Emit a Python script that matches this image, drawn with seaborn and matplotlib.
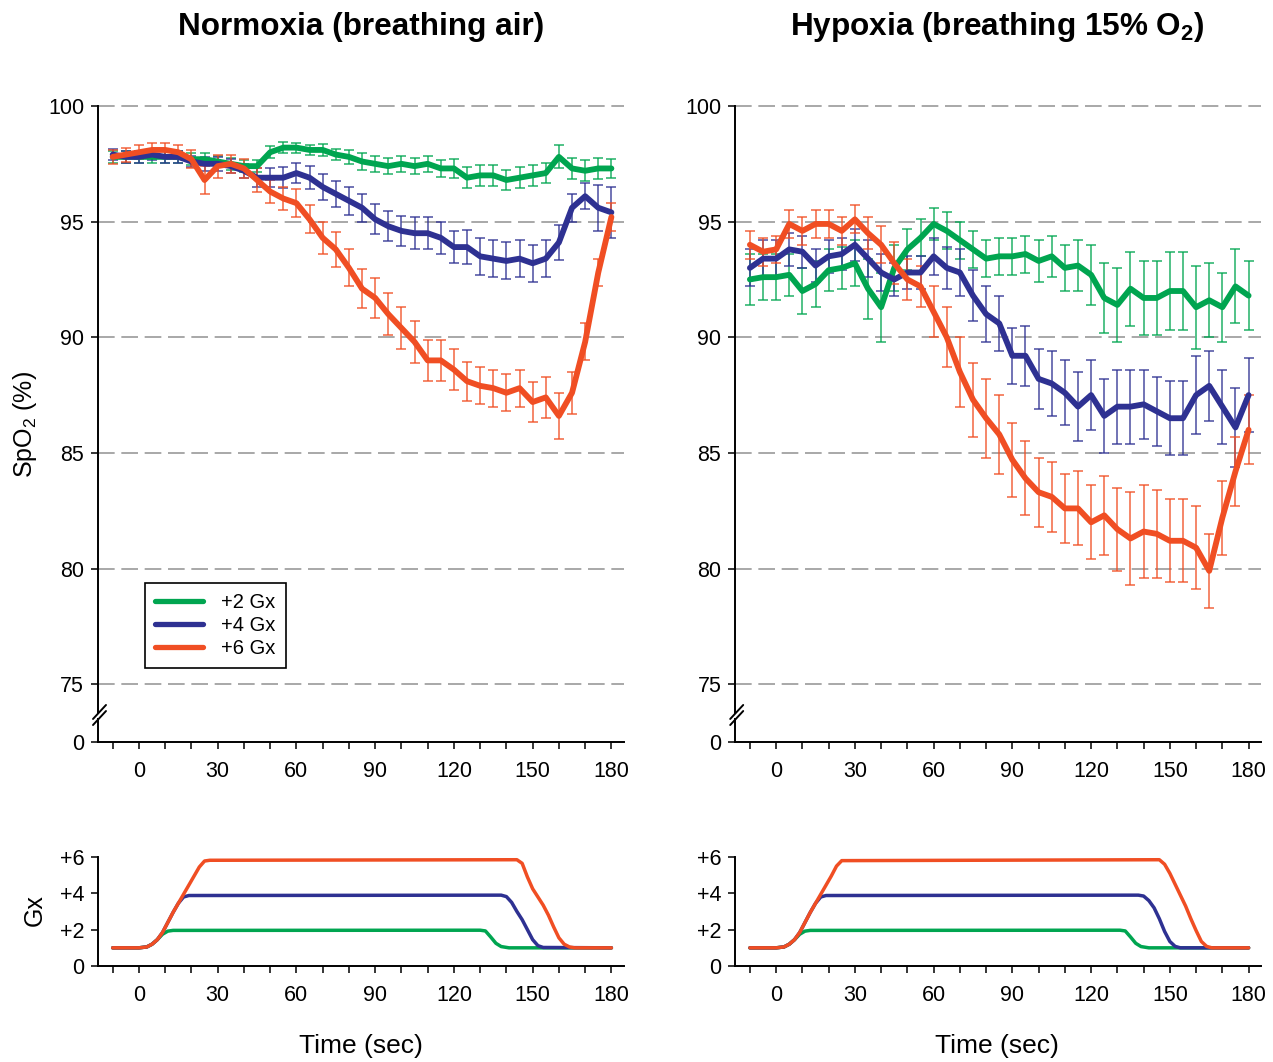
import numpy as np
import pandas as pd
import matplotlib.pyplot as plt
import seaborn as sns
from matplotlib.lines import Line2D

# time axis (s) for the SpO2 traces
time = list(range(-10, 181, 5))

groups = ['+2 Gx', '+4 Gx', '+6 Gx']
colors = ['#00a550', '#2e3192', '#f04e23']

# Normoxia SpO2 (%) and error
norm_g2 = [97.8, 97.8, 97.8, 97.8, 97.8, 97.8, 97.7, 97.7, 97.6, 97.5, 97.4, 97.4, 98.0, 98.2, 98.2, 98.1,
           98.1, 97.9, 97.8, 97.6, 97.5, 97.4, 97.5, 97.4, 97.5, 97.3, 97.3, 96.9, 97.0, 97.0, 96.8, 96.9,
           97.0, 97.1, 97.8, 97.3, 97.2, 97.3, 97.3]
norm_g2_err = [0.25, 0.25, 0.25, 0.25, 0.25, 0.25, 0.25, 0.25, 0.25, 0.25, 0.25, 0.25, 0.25, 0.25, 0.22, 0.22,
               0.25, 0.25, 0.3, 0.35, 0.35, 0.35, 0.35, 0.35, 0.35, 0.35, 0.4, 0.45, 0.45, 0.45, 0.45, 0.45,
               0.45, 0.45, 0.5, 0.45, 0.45, 0.45, 0.4]
norm_g4 = [97.9, 97.8, 97.8, 97.9, 97.8, 97.8, 97.6, 97.5, 97.5, 97.4, 97.2, 96.9, 96.9, 96.9, 97.1, 96.9,
           96.5, 96.2, 95.9, 95.6, 95.1, 94.8, 94.6, 94.5, 94.5, 94.3, 93.9, 93.9, 93.5, 93.4, 93.3, 93.4,
           93.2, 93.4, 94.1, 95.6, 96.1, 95.6, 95.4]
norm_g4_err = [0.25, 0.25, 0.25, 0.25, 0.25, 0.25, 0.25, 0.3, 0.3, 0.3, 0.3, 0.4, 0.4, 0.45, 0.45, 0.5,
               0.55, 0.55, 0.6, 0.6, 0.65, 0.65, 0.65, 0.7, 0.7, 0.7, 0.7, 0.75, 0.8, 0.8, 0.8, 0.8,
               0.8, 0.8, 0.75, 0.6, 0.55, 1.0, 1.1]
norm_g6 = [97.8, 97.9, 98.0, 98.1, 98.1, 98.0, 97.7, 96.8, 97.4, 97.5, 97.3, 96.8, 96.3, 96.0, 95.8, 95.1,
           94.3, 93.8, 93.0, 92.1, 91.7, 91.0, 90.4, 89.8, 89.0, 89.0, 88.6, 88.1, 87.9, 87.8, 87.6, 87.8,
           87.2, 87.4, 86.6, 87.6, 89.8, 92.8, 95.2]
norm_g6_err = [0.3, 0.3, 0.3, 0.3, 0.3, 0.3, 0.4, 0.6, 0.5, 0.4, 0.4, 0.5, 0.5, 0.5, 0.6, 0.6,
               0.7, 0.75, 0.8, 0.85, 0.85, 0.9, 0.9, 0.9, 0.9, 0.9, 0.9, 0.85, 0.8, 0.8, 0.8, 0.8,
               0.85, 0.9, 1.0, 0.9, 0.8, 0.6, 0.6]

# Hypoxia SpO2 (%) and error
hyp_g2 = [92.5, 92.6, 92.6, 92.7, 92.0, 92.3, 92.9, 93.0, 93.2, 92.1, 91.3, 93.0, 93.8, 94.3, 94.9, 94.6,
          94.2, 93.8, 93.4, 93.5, 93.5, 93.6, 93.3, 93.5, 93.0, 93.1, 92.7, 91.7, 91.4, 92.1, 91.7, 91.7,
          92.0, 92.0, 91.3, 91.6, 91.3, 92.2, 91.8]
hyp_g2_err = [1.1, 1.0, 1.0, 0.9, 1.0, 1.0, 0.9, 0.9, 1.0, 1.3, 1.5, 1.0, 0.9, 0.8, 0.7, 0.8,
              0.8, 0.8, 0.8, 0.8, 0.8, 0.8, 0.9, 0.9, 1.0, 1.1, 1.3, 1.5, 1.6, 1.6, 1.6, 1.6,
              1.7, 1.7, 1.8, 1.6, 1.5, 1.6, 1.5]
hyp_g4 = [93.0, 93.4, 93.4, 93.8, 93.7, 93.1, 93.5, 93.6, 94.0, 93.4, 92.8, 92.5, 92.8, 92.8, 93.5, 93.0,
          92.8, 91.8, 91.0, 90.6, 89.2, 89.2, 88.2, 88.0, 87.6, 87.0, 87.5, 86.6, 87.0, 87.0, 87.1, 86.8,
          86.5, 86.5, 87.5, 87.9, 87.0, 86.1, 87.5]
hyp_g4_err = [0.8, 0.8, 0.8, 0.7, 0.7, 0.7, 0.7, 0.7, 0.7, 0.8, 0.8, 0.7, 0.7, 0.7, 0.8, 0.9,
              1.0, 1.1, 1.2, 1.2, 1.2, 1.3, 1.3, 1.4, 1.4, 1.5, 1.5, 1.6, 1.6, 1.6, 1.5, 1.5,
              1.6, 1.6, 1.7, 1.5, 1.6, 1.7, 1.6]
hyp_g6 = [94.0, 93.7, 93.8, 94.9, 94.6, 94.9, 94.9, 94.6, 95.1, 94.5, 94.0, 93.2, 92.5, 92.2, 91.1, 90.0,
          88.5, 87.3, 86.5, 85.8, 84.7, 83.9, 83.3, 83.1, 82.6, 82.6, 82.0, 82.3, 81.7, 81.3, 81.6, 81.5,
          81.2, 81.2, 80.9, 79.9, 82.2, 84.2, 86.0]
hyp_g6_err = [0.6, 0.6, 0.6, 0.6, 0.6, 0.6, 0.6, 0.6, 0.6, 0.7, 0.8, 0.9, 0.9, 0.9, 1.1, 1.3,
              1.5, 1.6, 1.7, 1.7, 1.6, 1.6, 1.5, 1.5, 1.5, 1.6, 1.6, 1.7, 1.8, 2.0, 2.0, 1.9,
              1.8, 1.8, 1.8, 1.6, 1.6, 1.5, 1.5]

# G profiles (knots)
gx_norm_t = {
    '+2 Gx': [-10, 0, 3, 5, 7, 9, 11, 13, 130, 132, 134, 136, 138, 141, 180],
    '+4 Gx': [-10, 0, 3, 5, 7, 9, 11, 13, 15, 17, 19, 138, 140, 142, 144, 146, 148, 150, 152, 154, 180],
    '+6 Gx': [-10, 0, 3, 5, 7, 9, 11, 13, 15, 17, 19, 21, 23, 25, 27, 144, 146, 148, 150, 152, 154, 156,
              158, 160, 162, 164, 166, 180],
}
gx_norm_v = {
    '+2 Gx': [1.0, 1.0, 1.05, 1.2, 1.45, 1.75, 1.92, 1.96, 1.97, 1.93, 1.6, 1.25, 1.07, 1.0, 1.0],
    '+4 Gx': [1.0, 1.0, 1.05, 1.2, 1.45, 1.85, 2.4, 2.95, 3.45, 3.8, 3.88, 3.9, 3.82, 3.5, 3.0, 2.55, 2.0,
              1.45, 1.12, 1.02, 1.0],
    '+6 Gx': [1.0, 1.0, 1.05, 1.2, 1.45, 1.85, 2.4, 2.95, 3.45, 3.95, 4.45, 4.95, 5.45, 5.78, 5.82, 5.85,
              5.65, 4.9, 4.25, 3.8, 3.35, 2.8, 2.15, 1.55, 1.2, 1.05, 1.0, 1.0],
}
gx_hyp_t = {
    '+2 Gx': [-10, 0, 3, 5, 7, 9, 11, 13, 131, 133, 135, 137, 139, 142, 180],
    '+4 Gx': [-10, 0, 3, 5, 7, 9, 11, 13, 15, 17, 19, 138, 140, 142, 144, 146, 148, 150, 152, 154, 180],
    '+6 Gx': [-10, 0, 3, 5, 7, 9, 11, 13, 15, 17, 19, 21, 23, 25, 146, 148, 150, 152, 154, 156, 158, 160,
              162, 164, 166, 180],
}
gx_hyp_v = {
    '+2 Gx': [1.0, 1.0, 1.05, 1.2, 1.45, 1.75, 1.92, 1.96, 1.97, 1.93, 1.6, 1.25, 1.07, 1.0, 1.0],
    '+4 Gx': [1.0, 1.0, 1.05, 1.2, 1.45, 1.85, 2.4, 2.95, 3.45, 3.8, 3.88, 3.9, 3.85, 3.6, 3.2, 2.6, 1.9,
              1.35, 1.08, 1.0, 1.0],
    '+6 Gx': [1.0, 1.0, 1.05, 1.2, 1.45, 1.85, 2.4, 2.95, 3.45, 3.95, 4.45, 4.95, 5.5, 5.8, 5.85, 5.6,
              5.1, 4.5, 3.9, 3.3, 2.6, 1.95, 1.35, 1.08, 1.0, 1.0],
}

spo2 = {'norm': [norm_g2, norm_g4, norm_g6], 'hyp': [hyp_g2, hyp_g4, hyp_g6]}
spo2_err = {'norm': [norm_g2_err, norm_g4_err, norm_g6_err], 'hyp': [hyp_g2_err, hyp_g4_err, hyp_g6_err]}

rows = []
for cond in ['norm', 'hyp']:
    for g, vals, errs in zip(groups, spo2[cond], spo2_err[cond]):
        for t, v, e in zip(time, vals, errs):
            rows.append((cond, g, t, v, e))
df = pd.DataFrame(rows, columns=['cond', 'group', 't', 'spo2', 'err'])

rows = []
for cond, tt, vv in [('norm', gx_norm_t, gx_norm_v), ('hyp', gx_hyp_t, gx_hyp_v)]:
    for g in groups:
        for t, v in zip(tt[g], vv[g]):
            rows.append((cond, g, t, v))
gx = pd.DataFrame(rows, columns=['cond', 'group', 't', 'gx'])

sns.set_style('ticks')
plt.rcParams['font.family'] = ['Liberation Sans', 'DejaVu Sans']
plt.rcParams['mathtext.fontset'] = 'custom'
plt.rcParams['mathtext.rm'] = 'Liberation Sans'
plt.rcParams['mathtext.bf'] = 'Liberation Sans:bold'
plt.rcParams['axes.linewidth'] = 1.4
for k in ['text.color', 'axes.labelcolor', 'xtick.color', 'ytick.color', 'axes.edgecolor']:
    plt.rcParams[k] = 'black'

pal = dict(zip(groups, colors))
W, H = 1273, 1062
fig = plt.figure(figsize=(W / 100, H / 100), dpi=100)

xlim = (-15.6, 184.8)
xt = list(range(-10, 181, 10))
xtl = [str(v) if v % 30 == 0 else '' for v in xt]


def style_x(ax):
    ax.set_xlim(*xlim)
    ax.set_xticks(xt)
    ax.set_xticklabels(xtl)
    ax.tick_params(axis='x', length=5, width=1.1, pad=9, labelsize=15.5)
    ax.tick_params(axis='y', length=5, width=1.1, pad=5, labelsize=15.5)
    ax.set_xlabel('')
    ax.set_ylabel('')
    sns.despine(ax=ax)


for i, cond in enumerate(['norm', 'hyp']):
    left = (98 if i == 0 else 735.2) / W
    ax = fig.add_axes([left, 320 / H, 526 / W, 636 / H])
    sub = df[df.cond == cond]
    for y in [75, 80, 85, 90, 95, 100]:
        ax.axhline(y, color='#9a9a9a', lw=1.2, dashes=(10, 4), zorder=1, clip_on=False)
    for g in groups:
        s = sub[sub.group == g]
        ax.errorbar(s.t, s.spo2, yerr=s.err, fmt='none', ecolor=pal[g], alpha=0.8,
                    elinewidth=1.2, capsize=3.5, capthick=1.2, zorder=2)
    sns.lineplot(data=sub, x='t', y='spo2', hue='group', hue_order=groups, palette=pal,
                 linewidth=4.2, legend=False, ax=ax, zorder=3)
    ax.set_ylim(72.5, 100)
    ax.set_yticks([72.5, 75, 80, 85, 90, 95, 100])
    ax.set_yticklabels(['0', '75', '80', '85', '90', '95', '100'])
    style_x(ax)
    # axis break
    ax.plot([0, 0], [0.037, 0.044], transform=ax.transAxes, color='white', lw=4,
            clip_on=False, zorder=5, solid_capstyle='butt')
    for y0 in [0.0267, 0.0362]:
        ax.plot([-0.0095, 0.0152], [y0, y0 + 0.022], transform=ax.transAxes, color='black',
                lw=1.4, clip_on=False, zorder=6)
    if i == 0:
        handles = [Line2D([], [], color=c, lw=3.8) for c in colors]
        leg = ax.legend(handles, groups, loc='upper left', bbox_to_anchor=(0.089, 0.25),
                        frameon=True, fancybox=False, edgecolor='black', framealpha=1,
                        fontsize=14.5, handlelength=2.4, borderpad=0.5, labelspacing=0.2,
                        handletextpad=0.9, borderaxespad=0)
        leg.get_frame().set_linewidth(1.2)

    axg = fig.add_axes([left, 96 / H, 526 / W, 109 / H])
    sns.lineplot(data=gx[gx.cond == cond], x='t', y='gx', hue='group', hue_order=groups,
                 palette=pal, linewidth=2.5, legend=False, ax=axg, estimator=None)
    axg.set_ylim(0, 6)
    axg.set_yticks([0, 2, 4, 6])
    axg.set_yticklabels(['0', '+2', '+4', '+6'])
    style_x(axg)
    for a in (ax, axg):
        for sp in a.spines.values():
            sp.set_clip_on(False)

fig.text(361 / W, 1 - 27 / H, 'Normoxia (breathing air)', ha='center', va='center',
         fontsize=22.7, fontweight='bold')
fig.text(997 / W, 1 - 27 / H, r'Hypoxia (breathing 15% O$_\mathbf{2}$)', ha='center', va='center',
         fontsize=22.7, fontweight='bold')
fig.text(361 / W, 16 / H, 'Time (sec)', ha='center', va='center', fontsize=19)
fig.text(997 / W, 16 / H, 'Time (sec)', ha='center', va='center', fontsize=19)
fig.text(25 / W, 1 - 424 / H, r'SpO$_2$ (%)', ha='center', va='center', rotation=90, fontsize=18)
fig.text(35 / W, 1 - 910 / H, 'Gx', ha='center', va='center', rotation=90, fontsize=18)

fig.savefig('out.png', dpi=100)
